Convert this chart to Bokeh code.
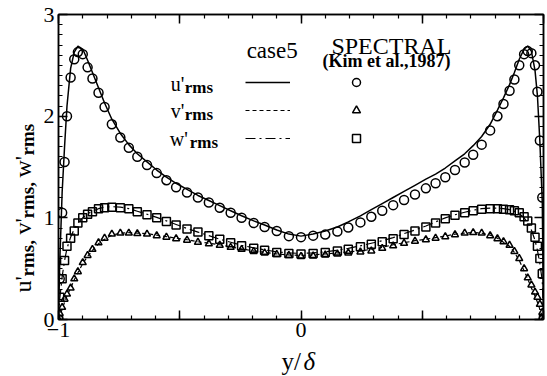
import math
from bokeh.plotting import figure
from bokeh.layouts import row, column
from bokeh.models import (Range1d, LinearAxis, SingleIntervalTicker, Label,
                          Legend, LegendItem)
from bokeh.core.properties import value
from bokeh.embed import file_html
from bokeh.resources import INLINE

# ---------------- data ----------------
y_delta = [-1.0, -0.995, -0.985, -0.975, -0.965, -0.95, -0.935, -0.92, -0.90, -0.88,
           -0.86, -0.835, -0.81, -0.78, -0.745, -0.71, -0.675, -0.635, -0.595, -0.555,
           -0.515, -0.47, -0.425, -0.38, -0.335, -0.29, -0.245, -0.195, -0.15, -0.10,
           -0.05, 0.0, 0.05, 0.10, 0.15, 0.195, 0.245, 0.29, 0.335, 0.38,
           0.425, 0.47, 0.515, 0.555, 0.595, 0.635, 0.675, 0.71, 0.745, 0.78,
           0.81, 0.835, 0.86, 0.88, 0.90, 0.92, 0.935, 0.95, 0.965, 0.975,
           0.985, 0.995, 1.0]

# SPECTRAL (Kim et al., 1987) -- symbols
kim_u = [0.0, 0.40, 1.05, 1.55, 2.00, 2.38, 2.56, 2.63, 2.61, 2.48,
         2.37, 2.23, 2.09, 1.92, 1.79, 1.69, 1.60, 1.52, 1.44, 1.37,
         1.30, 1.25, 1.20, 1.15, 1.10, 1.05, 1.00, 0.95, 0.91, 0.87,
         0.82, 0.81, 0.825, 0.835, 0.865, 0.905, 0.955, 1.01, 1.07, 1.125,
         1.175, 1.23, 1.29, 1.34, 1.40, 1.47, 1.545, 1.62, 1.72, 1.86,
         2.00, 2.12, 2.25, 2.36, 2.50, 2.61, 2.64, 2.62, 2.50, 2.24,
         1.76, 1.20, 0.0]
kim_v = [0.0, 0.06, 0.12, 0.20, 0.25, 0.31, 0.40, 0.47, 0.56, 0.63,
         0.69, 0.755, 0.80, 0.84, 0.85, 0.85, 0.845, 0.84, 0.825, 0.81,
         0.795, 0.78, 0.76, 0.745, 0.73, 0.71, 0.69, 0.67, 0.655, 0.64,
         0.63, 0.62, 0.625, 0.635, 0.645, 0.655, 0.665, 0.675, 0.70, 0.725,
         0.75, 0.77, 0.785, 0.80, 0.815, 0.835, 0.85, 0.855, 0.85, 0.825,
         0.795, 0.765, 0.73, 0.67, 0.60, 0.50, 0.41, 0.34, 0.27, 0.22,
         0.15, 0.07, 0.0]
kim_w = [0.0, 0.22, 0.40, 0.58, 0.72, 0.80, 0.87, 0.95, 1.00, 1.035,
         1.06, 1.09, 1.10, 1.105, 1.10, 1.09, 1.06, 1.03, 1.00, 0.965,
         0.93, 0.89, 0.86, 0.825, 0.79, 0.755, 0.725, 0.70, 0.68, 0.66,
         0.65, 0.645, 0.65, 0.66, 0.675, 0.69, 0.715, 0.74, 0.765, 0.795,
         0.835, 0.87, 0.91, 0.95, 0.99, 1.025, 1.05, 1.07, 1.085, 1.09,
         1.09, 1.085, 1.08, 1.07, 1.05, 1.01, 0.97, 0.90, 0.81, 0.72,
         0.60, 0.45, 0.0]

# case5 -- lines
dns_u = [0.0, 0.55, 1.25, 1.70, 2.10, 2.47, 2.63, 2.69, 2.66, 2.55,
         2.43, 2.28, 2.13, 1.97, 1.83, 1.72, 1.63, 1.55, 1.47, 1.40,
         1.34, 1.28, 1.22, 1.17, 1.12, 1.07, 1.02, 0.97, 0.93, 0.88,
         0.84, 0.82, 0.84, 0.87, 0.91, 0.96, 1.02, 1.08, 1.14, 1.20,
         1.26, 1.32, 1.38, 1.43, 1.49, 1.56, 1.63, 1.71, 1.80, 1.92,
         2.06, 2.18, 2.31, 2.43, 2.56, 2.66, 2.69, 2.64, 2.45, 2.20,
         1.75, 1.15, 0.0]
dns_v = [0.0, 0.03, 0.10, 0.17, 0.23, 0.31, 0.39, 0.46, 0.55, 0.62,
         0.68, 0.745, 0.79, 0.83, 0.85, 0.855, 0.85, 0.845, 0.83, 0.815,
         0.80, 0.785, 0.765, 0.75, 0.735, 0.715, 0.695, 0.675, 0.66, 0.645,
         0.635, 0.63, 0.635, 0.645, 0.655, 0.665, 0.675, 0.69, 0.71, 0.735,
         0.755, 0.775, 0.79, 0.805, 0.82, 0.84, 0.85, 0.855, 0.85, 0.83,
         0.80, 0.76, 0.72, 0.66, 0.58, 0.48, 0.40, 0.31, 0.23, 0.17,
         0.10, 0.03, 0.0]
dns_w = [0.0, 0.20, 0.42, 0.58, 0.70, 0.81, 0.89, 0.95, 1.00, 1.04,
         1.065, 1.09, 1.105, 1.11, 1.105, 1.09, 1.065, 1.035, 1.005, 0.97,
         0.935, 0.895, 0.86, 0.825, 0.79, 0.76, 0.73, 0.705, 0.685, 0.665,
         0.655, 0.65, 0.655, 0.665, 0.68, 0.70, 0.725, 0.75, 0.775, 0.805,
         0.845, 0.88, 0.92, 0.96, 1.00, 1.03, 1.055, 1.075, 1.09, 1.095,
         1.095, 1.09, 1.08, 1.065, 1.04, 1.00, 0.95, 0.88, 0.78, 0.68,
         0.55, 0.38, 0.0]

x_tick_labels = {-1: "\u22121", -0.5: "", 0: "0", 0.5: "", 1: ""}
y_tick_labels = {0: "0", 1: "1", 2: "2", 3: "3"}

SERIF = "Liberation Serif"

# ---------------- geometry (page pixels) ----------------
W, H = 547, 376
LW = 40            # width of left label strip
BH = 28            # height of bottom label strip
FL, FR, FT, FB = 55, 543, 14, 319   # frame edges on the page

MW = W - LW
MH = H - BH

p = figure(width=MW, height=MH, output_backend="svg", toolbar_location=None,
           x_range=Range1d(-1, 1), y_range=Range1d(0, 3),
           min_border_left=FL - LW, min_border_right=W - FR,
           min_border_top=FT, min_border_bottom=MH - FB,
           background_fill_color="white", border_fill_color="white")
p.grid.visible = False
p.outline_line_color = "black"
p.outline_line_width = 1.5


def style_axis(ax, show_labels):
    ax.axis_line_width = 1.5
    ax.axis_line_color = "black"
    ax.major_tick_in = 9
    ax.major_tick_out = 0
    ax.minor_tick_in = 4
    ax.minor_tick_out = 0
    ax.major_tick_line_width = 1.5
    ax.minor_tick_line_width = 1.2
    ax.major_tick_line_color = "black"
    ax.minor_tick_line_color = "black"
    ax.major_label_text_font = SERIF
    if show_labels:
        ax.major_label_text_color = "black"
        ax.major_label_text_font_size = "22px"
        ax.major_label_standoff = 3
    else:
        ax.major_label_text_color = None
        ax.major_label_text_font_size = "1px"
        ax.major_label_standoff = 0


xb = p.xaxis[0]
xb.ticker = SingleIntervalTicker(interval=0.5, num_minor_ticks=5)
xb.major_label_overrides = x_tick_labels
style_axis(xb, True)

yl = p.yaxis[0]
yl.ticker = SingleIntervalTicker(interval=1, num_minor_ticks=10)
yl.major_label_overrides = y_tick_labels
style_axis(yl, True)
yl.major_label_standoff = 4

xt = LinearAxis(ticker=SingleIntervalTicker(interval=0.5, num_minor_ticks=5))
style_axis(xt, False)
p.add_layout(xt, "above")
yr = LinearAxis(ticker=SingleIntervalTicker(interval=1, num_minor_ticks=10))
style_axis(yr, False)
p.add_layout(yr, "right")

# ---------------- series ----------------
r_lu = p.line(y_delta, dns_u, line_color="black", line_width=1.5)
r_lv = p.line(y_delta, dns_v, line_color="black", line_width=1.2, line_dash="4 3")
r_lw = p.line(y_delta, dns_w, line_color="black", line_width=1.2, line_dash="10 4 2 4")

r_su = p.scatter(y_delta, kim_u, marker="circle", size=9, fill_color=None,
                 line_color="black", line_width=1.5)
r_sv = p.scatter(y_delta, kim_v, marker="triangle", size=7, fill_color=None,
                 line_color="black", line_width=1.5)
r_sw = p.scatter(y_delta, kim_w, marker="square", size=8, fill_color=None,
                 line_color="black", line_width=1.5)

# ---------------- legend ----------------
def make_legend(rends, loc, gw, gh):
    return Legend(items=[LegendItem(label=" ", renderers=[r]) for r in rends],
                  location=loc, glyph_width=gw, glyph_height=gh,
                  label_height=20, label_width=0, label_standoff=0,
                  label_text_font_size="1px", spacing=8, padding=0, margin=0,
                  border_line_color=None, background_fill_alpha=0)


p.add_layout(make_legend([r_lu, r_lv, r_lw], (242 - FL, FB - 148), 45, 20))
p.add_layout(make_legend([r_su, r_sv, r_sw], (343 - FL, FB - 148), 20, 20))

# ---------------- texts inside the frame ----------------
FW = FR - FL
FH = FB - FT


def lab(text, px, py, size, style="normal", align="left"):
    p.add_layout(Label(x=(px - FL) / FW * 2 - 1, y=(FB - py) / FH * 3, text=text,
                       text_font=SERIF, text_font_size=size,
                       text_font_style=style, text_align=align,
                       text_baseline="alphabetic", text_color="black"))


lab("case5", 270, 50, "23px", align="center")
lab("SPECTRAL", 390, 45, "24px", align="center")
lab("(Kim et al.,1987)", 385, 60, "18px", style="bold", align="center")

lab("u'", 168, 83, "20px")
lab("rms", 182, 87, "17px", style="bold")
lab("v'", 168, 110, "20px")
lab("rms", 182, 114, "17px", style="bold")
lab("w'", 167, 138, "20px")
lab("rms", 187, 142, "17px", style="bold")

# ---------------- left strip: y axis title (rotated) ----------------
L = figure(width=LW, height=MH, output_backend="svg", toolbar_location=None,
           x_range=Range1d(0, LW), y_range=Range1d(0, MH),
           x_axis_location=None, y_axis_location=None,
           min_border=0, border_fill_color="white")
L.grid.visible = False
L.outline_line_color = None

A = math.pi / 2
ylab_parts = ["u'", "rms,", "v'", "rms,", "w'", "rms"]
ylab_px = [22, 27, 22, 27, 22, 27]          # centre line of each piece
ylab_py = [292, 276, 234, 218, 177, 155]    # start of each piece
ylab_size = ["24px", "19px", "24px", "19px", "24px", "19px"]
ylab_style = ["normal", "bold", "normal", "bold", "normal", "bold"]
for t, px, py, sz, st in zip(ylab_parts, ylab_px, ylab_py, ylab_size, ylab_style):
    L.text(x=[px], y=[MH - py], text=[t], angle=A, text_font=value(SERIF),
           text_font_size=sz, text_font_style=st, text_align="left",
           text_baseline="middle", text_color="black")

# ---------------- bottom strip: x axis title ----------------
B = figure(width=MW, height=BH, output_backend="svg", toolbar_location=None,
           x_range=Range1d(LW, W), y_range=Range1d(H, MH),
           x_axis_location=None, y_axis_location=None,
           min_border=0, border_fill_color="white")
B.grid.visible = False
B.outline_line_color = None
B.text(x=[273], y=[361], text=["y/"], text_font=value(SERIF), text_font_size="25px",
       text_align="left", text_baseline="middle", text_color="black")
B.text(x=[296], y=[361], text=["\u03b4"], text_font=value(SERIF), text_font_size="25px",
       text_font_style="italic", text_align="left", text_baseline="middle",
       text_color="black")

layout = row(L, column(p, B, spacing=0), spacing=0)
open("out.html", "w").write(file_html(layout, INLINE))
